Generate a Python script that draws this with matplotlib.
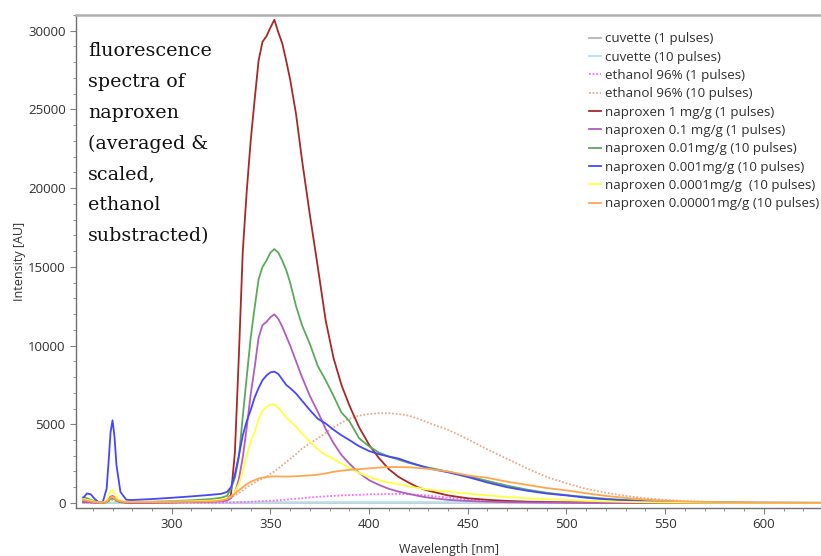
import matplotlib
matplotlib.use("Agg")
import matplotlib.pyplot as plt
from matplotlib.ticker import MultipleLocator

# wavelength grid the values below were read at [nm]
wavelength = [255, 257, 259, 261, 263, 265, 267, 268, 269, 270, 271, 272, 274, 277, 280,
              290, 300, 310, 320, 325, 328, 330, 332, 334, 336, 338, 340, 342, 344, 346,
              348, 350, 352, 354, 356, 358, 360, 363, 366, 370, 374, 378, 382, 386, 390,
              395, 400, 405, 410, 415, 420, 425, 430, 440, 450, 460, 470, 480, 490, 500,
              510, 520, 530, 540, 550, 560, 570, 580, 600, 630]

cuvette_1 = [10, 10, 10, 10, 10, 10, 10, 10, 10, 10, 10, 10, 10, 10, 10,
             10, 10, 10, 10, 10, 10, 10, 10, 10, 10, 10, 15, 15, 15, 15,
             15, 15, 15, 15, 15, 15, 15, 15, 15, 15, 15, 15, 15, 15, 15,
             15, 15, 15, 15, 15, 15, 15, 15, 15, 15, 15, 15, 15, 15, 15,
             15, 15, 15, 15, 15, 15, 15, 15, 15, 15]

cuvette_10 = [20, 20, 20, 20, 20, 20, 20, 20, 20, 20, 20, 20, 20, 20, 20,
              20, 20, 20, 25, 30, 35, 40, 45, 50, 50, 50, 55, 55, 55, 55,
              55, 55, 55, 55, 55, 55, 55, 55, 55, 55, 55, 55, 55, 55, 55,
              55, 55, 55, 55, 55, 55, 55, 55, 55, 55, 55, 55, 55, 50, 50,
              50, 50, 50, 45, 45, 40, 40, 35, 30, 30]

ethanol_1 = [0, 0, 0, 0, 0, 0, 100, 250, 400, 450, 300, 150, 50, 0, 0,
             0, 0, 0, 10, 20, 25, 30, 40, 50, 60, 70, 80, 90, 110, 120,
             130, 140, 150, 170, 190, 210, 240, 270, 300, 350, 390, 420, 450, 480, 500,
             520, 550, 560, 570, 575, 560, 520, 470, 340, 230, 130, 70, 40, 25, 15,
             10, 5, 0, 0, 0, 0, 0, 0, 0, 0]

ethanol_10 = [30, 30, 20, 20, 10, 10, 50, 100, 150, 200, 150, 80, 40, 20, 10,
              10, 20, 30, 80, 150, 250, 350, 500, 620, 800, 1000, 1150, 1300, 1450, 1550,
              1650, 1850, 2000, 2200, 2400, 2600, 2800, 3100, 3450, 3800, 4100, 4450, 4800, 5100, 5350,
              5550, 5650, 5700, 5700, 5650, 5550, 5350, 5100, 4650, 4050, 3400, 2800, 2200, 1650, 1250,
              900, 650, 450, 300, 190, 120, 70, 40, 15, 5]

naproxen_1 = [100, 80, 60, 40, 30, 20, 60, 200, 300, 350, 300, 150, 60, 30, 20,
              30, 40, 60, 100, 150, 250, 500, 3200, 9300, 16000, 19800, 23000, 25600, 28100, 29300,
              29650, 30200, 30700, 29900, 29200, 28100, 26900, 24700, 21800, 18300, 15000, 11600, 9200, 7500, 6200,
              4800, 3700, 2850, 2150, 1650, 1300, 980, 780, 480, 300, 200, 130, 85, 60, 40,
              30, 25, 20, 15, 10, 8, 6, 5, 3, 2]

naproxen_01 = [80, 60, 40, 30, 20, 20, 100, 250, 400, 450, 350, 200, 80, 40, 30,
               40, 50, 60, 80, 100, 150, 300, 650, 1500, 2900, 4800, 6900, 8600, 10500, 11300,
               11500, 11800, 11980, 11700, 11200, 10600, 10000, 9000, 8000, 6800, 5800, 4700, 3800, 3050, 2500,
               1900, 1450, 1150, 900, 720, 580, 450, 340, 200, 130, 80, 50, 35, 25, 20,
               15, 10, 8, 6, 5, 4, 3, 2, 1, 1]

naproxen_001 = [350, 300, 200, 100, 50, 30, 50, 150, 250, 300, 250, 150, 80, 50, 50,
                80, 120, 170, 250, 330, 450, 900, 1600, 2900, 5500, 8000, 10500, 12400, 14200, 15000,
                15400, 15900, 16130, 15900, 15400, 14800, 14000, 12500, 11300, 10100, 8700, 7800, 6800, 5750, 5200,
                4100, 3600, 3200, 2950, 2750, 2550, 2400, 2250, 1990, 1700, 1400, 1100, 850, 650, 500,
                380, 270, 190, 120, 80, 50, 30, 20, 10, 5]

naproxen_0001 = [300, 600, 550, 250, 50, 30, 900, 2600, 4500, 5250, 4200, 2400, 700, 200, 190,
                 250, 330, 420, 520, 580, 700, 1000, 1800, 3000, 4300, 5200, 5900, 6700, 7300, 7800,
                 8100, 8300, 8340, 8200, 7850, 7500, 7300, 6950, 6500, 5900, 5350, 5050, 4650, 4300, 4000,
                 3600, 3300, 3100, 2950, 2820, 2600, 2400, 2200, 1950, 1650, 1300, 1000, 780, 600, 480,
                 330, 230, 160, 100, 60, 40, 30, 20, 10, 5]

naproxen_00001 = [250, 200, 150, 80, 40, 30, 150, 500, 750, 800, 650, 350, 150, 80, 60,
                  70, 90, 110, 150, 200, 280, 400, 700, 1200, 2000, 3000, 3900, 4500, 5300, 5850,
                  6100, 6250, 6270, 6050, 5750, 5450, 5200, 4850, 4400, 3900, 3400, 3050, 2800, 2500, 2250,
                  1900, 1650, 1450, 1300, 1200, 1050, 950, 850, 720, 600, 480, 380, 300, 240, 190,
                  140, 100, 70, 50, 35, 25, 15, 10, 5, 2]

naproxen_000001 = [200, 150, 100, 60, 40, 30, 80, 200, 350, 400, 300, 180, 100, 60, 50,
                   60, 70, 80, 100, 150, 250, 400, 600, 800, 1000, 1200, 1350, 1450, 1550, 1620,
                   1650, 1680, 1690, 1690, 1680, 1680, 1680, 1700, 1720, 1750, 1800, 1880, 1980, 2050, 2100,
                   2150, 2200, 2250, 2280, 2280, 2270, 2220, 2170, 2000, 1750, 1600, 1350, 1150, 950, 800,
                   620, 450, 320, 220, 150, 100, 70, 45, 20, 5]

labels = ["cuvette (1 pulses)", "cuvette (10 pulses)", "ethanol 96% (1 pulses)",
          "ethanol 96% (10 pulses)", "naproxen 1 mg/g (1 pulses)", "naproxen 0.1 mg/g (1 pulses)",
          "naproxen 0.01mg/g (10 pulses)", "naproxen 0.001mg/g (10 pulses)",
          "naproxen 0.0001mg/g  (10 pulses)", "naproxen 0.00001mg/g (10 pulses)"]
series = [cuvette_1, cuvette_10, ethanol_1, ethanol_10, naproxen_1, naproxen_01,
          naproxen_001, naproxen_0001, naproxen_00001, naproxen_000001]
colors = ["#b4b4b4", "#b0e2f2", "#ff66ff", "#eba98a", "#a82828", "#b05cc0",
          "#5aaa5a", "#4646ff", "#ffff40", "#ffa54f"]
dotted = [False, False, True, True, False, False, False, False, False, False]

fig = plt.figure(figsize=(8.21, 5.56), dpi=100)
ax = fig.add_axes([0.0926, 0.0863, 0.9074, 0.8867])

for y, lab, col, dot in zip(series, labels, colors, dotted):
    if dot:
        ax.plot(wavelength, y, color=col, lw=1.3, ls=(0, (1, 1)), label=lab)
    else:
        ax.plot(wavelength, y, color=col, lw=1.3, label=lab)

ax.set_xlim(251.5, 629)
ax.set_ylim(-320, 31000)
ax.xaxis.set_major_locator(MultipleLocator(50))
ax.xaxis.set_minor_locator(MultipleLocator(10))
ax.yaxis.set_major_locator(MultipleLocator(5000))
ax.yaxis.set_minor_locator(MultipleLocator(1000))

tick_font = "Open Sans"
ax.tick_params(which="major", length=4, color="#808080", labelsize=9.5, labelcolor="#303030")
ax.tick_params(which="minor", length=2.5, color="#808080")
for t in ax.get_xticklabels() + ax.get_yticklabels():
    t.set_fontfamily(tick_font)

for side in ["left", "bottom"]:
    ax.spines[side].set_color("#707070")
    ax.spines[side].set_linewidth(1.0)
ax.spines["top"].set_color("#b0b0b0")
ax.spines["top"].set_linewidth(1.8)
ax.spines["right"].set_visible(False)

ax.set_xlabel("Wavelength [nm]", fontsize=9, family=tick_font, color="#303030", labelpad=8)
ax.set_ylabel("Intensity [AU]", fontsize=9, family=tick_font, color="#303030", labelpad=1)

ax.text(0.016, 0.945, "fluorescence\nspectra of\nnaproxen\n(averaged &\nscaled,\nethanol\nsubstracted)",
        transform=ax.transAxes, va="top", ha="left", family="DejaVu Serif", fontsize=13.7,
        linespacing=1.91, color="#111111")

leg = ax.legend(loc="upper left", bbox_to_anchor=(0.717, 0.942), bbox_transform=fig.transFigure,
                frameon=False, prop={"family": tick_font, "size": 9.6}, handlelength=0.95,
                handletextpad=0.3, labelspacing=0.4, borderaxespad=0, borderpad=0)
for t in leg.get_texts():
    t.set_color("#303030")

fig.savefig("out.png", dpi=100)
